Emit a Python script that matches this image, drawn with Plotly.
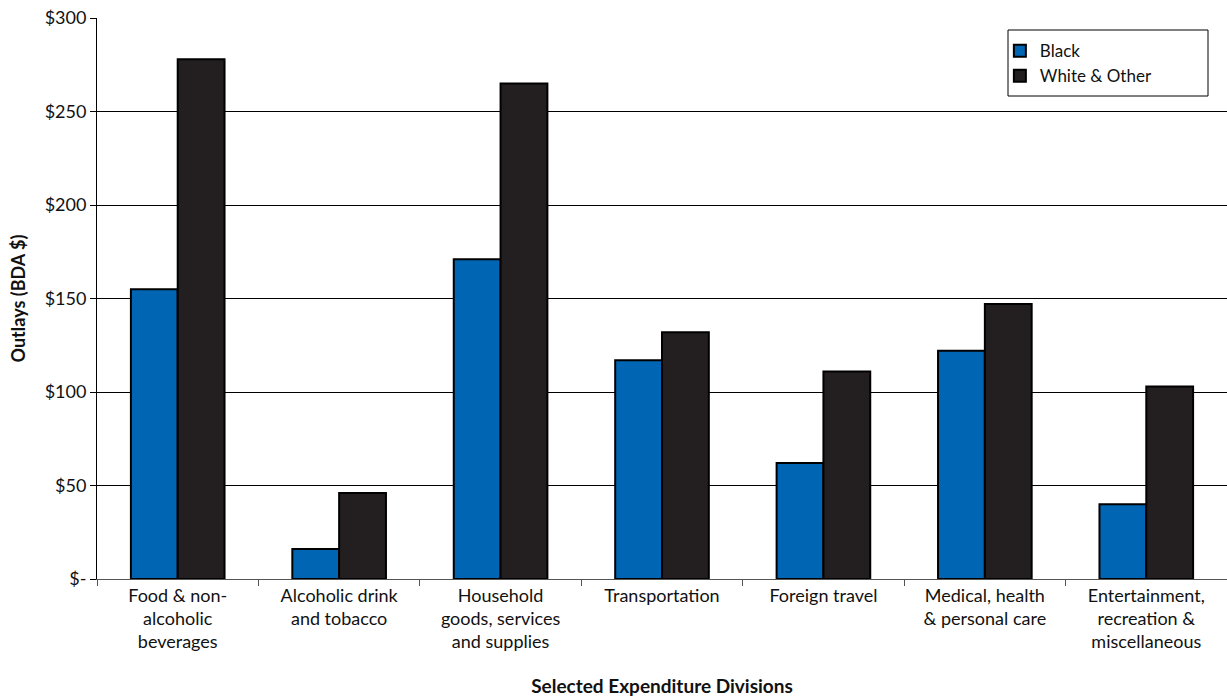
import plotly.graph_objects as go

categories = [
    "Food & non-<br>alcoholic<br>beverages",
    "Alcoholic drink<br>and tobacco",
    "Household<br>goods, services<br>and supplies",
    "Transportation",
    "Foreign travel",
    "Medical, health<br>& personal care",
    "Entertainment,<br>recreation &<br>miscellaneous",
]
black = [155, 16, 171, 117, 62, 122, 40]
white_other = [278, 46, 265, 132, 111, 147, 103]
y_tickvals = [0, 50, 100, 150, 200, 250, 300]
y_ticktext = ["$-", "$50", "$100", "$150", "$200", "$250", "$300"]

FONT = "Lato, 'Open Sans', sans-serif"

fig = go.Figure()
fig.add_trace(go.Bar(name="Black", x=categories, y=black,
                     marker=dict(color="#0066B3", line=dict(color="#000000", width=2))))
fig.add_trace(go.Bar(name="White & Other", x=categories, y=white_other,
                     marker=dict(color="#231F20", line=dict(color="#000000", width=2))))

fig.update_layout(
    width=1227, height=698,
    margin=dict(l=97, r=0, t=18, b=119),
    plot_bgcolor="white", paper_bgcolor="white",
    barmode="group", bargap=0.42, bargroupgap=0,
    font=dict(family=FONT, size=18, color="#111111"),
    legend=dict(x=0.799, y=0.973, xanchor="left", yanchor="top",
                borderwidth=0, bgcolor="rgba(0,0,0,0)",
                font=dict(size=17), traceorder="normal",
                itemwidth=30, tracegroupgap=0),
    xaxis=dict(
        title=dict(text="<b>Selected Expenditure Divisions</b>", font=dict(size=19), standoff=28),
        showline=True, linecolor="#555555", linewidth=1,
        ticks="outside", tickson="boundaries", ticklen=6, tickcolor="#555555",
        showgrid=False, tickfont=dict(size=18),
    ),
    yaxis=dict(
        title=dict(text="<b>Outlays (BDA $)</b>", font=dict(size=18), standoff=14),
        range=[0, 300], tickvals=y_tickvals, ticktext=y_ticktext,
        showline=True, linecolor="#000000", linewidth=1,
        ticks="outside", ticklen=6, tickcolor="#000000",
        showgrid=True, gridcolor="#000000", gridwidth=1,
        zeroline=False, tickfont=dict(size=18),
    ),
    shapes=[dict(type="rect", xref="paper", yref="paper",
                 x0=(1008 - 97) / 1130, x1=(1208 - 97) / 1130,
                 y0=(579 - 96) / 561, y1=(579 - 30) / 561,
                 line=dict(color="#000000", width=1), fillcolor="rgba(0,0,0,0)")],
)

fig.write_html("out.html")
